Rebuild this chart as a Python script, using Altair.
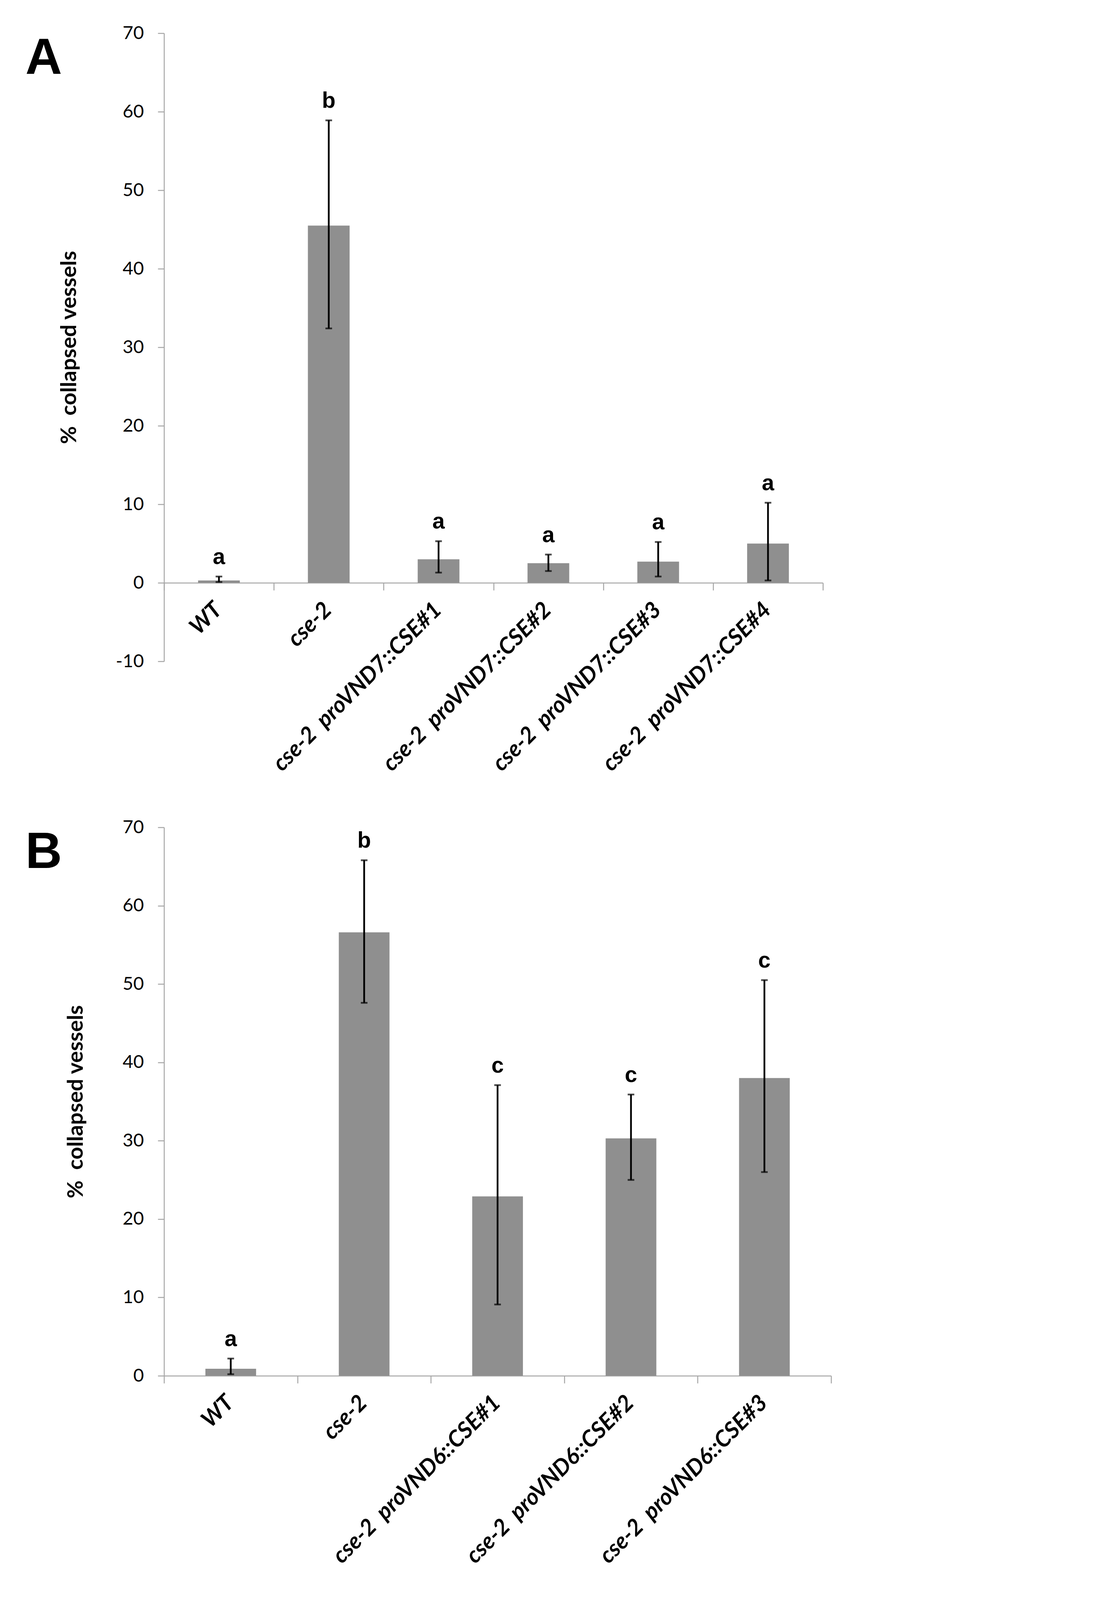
import altair as alt
import pandas as pd

# ---------- data ----------
SP = "\u00a0 "
cats_a = ["WT", "cse-2", "cse-2" + SP + "proVND7::CSE#1", "cse-2" + SP + "proVND7::CSE#2",
          "cse-2" + SP + "proVND7::CSE#3", "cse-2" + SP + "proVND7::CSE#4"]
vals_a = [0.3, 45.5, 3.0, 2.5, 2.7, 5.0]
lo_a = [0.1, 32.4, 1.3, 1.5, 0.8, 0.3]
hi_a = [0.8, 58.9, 5.3, 3.6, 5.2, 10.2]
sig_a = ["a", "b", "a", "a", "a", "a"]

cats_b = ["WT", "cse-2", "cse-2" + SP + "proVND6::CSE#1", "cse-2" + SP + "proVND6::CSE#2",
          "cse-2" + SP + "proVND6::CSE#3"]
vals_b = [0.9, 56.6, 22.9, 30.3, 38.0]
lo_b = [0.2, 47.6, 9.1, 25.0, 26.0]
hi_b = [2.2, 65.8, 37.1, 35.9, 50.5]
sig_b = ["a", "b", "c", "c", "c"]

yticks_a = [-10, 0, 10, 20, 30, 40, 50, 60, 70]
yticks_b = [0, 10, 20, 30, 40, 50, 60, 70]

BAR = "#8f8f8f"
AXIS = "#a6a6a6"
CAL = "Lato"
ARIAL = "Liberation Sans, Arial, sans-serif"
NARROW = "Liberation Sans Narrow, Liberation Sans, Arial, sans-serif"


def panel(cats, vals, lo, hi, sig, ydom, yticks, letter, w, h):
    df = pd.DataFrame({"cat": cats, "val": vals, "lo": lo, "hi": hi, "sig": sig})
    base = alt.Chart(df)
    xscale = alt.Scale(domain=cats, paddingInner=0, paddingOuter=0)
    yscale = alt.Scale(domain=ydom, nice=False, zero=False)
    zero_off = -(0 - ydom[0]) / (ydom[1] - ydom[0]) * h
    xaxis = alt.Axis(title=None, labelAngle=-45, labelFont=CAL, labelFontSize=58,
                     labelFontWeight="bold", labelFontStyle="italic", labelColor="black",
                     labelPadding=21, labelOffset=-22, tickBand="extent", tickSize=19,
                     tickWidth=2.5, tickColor=AXIS, domainColor=AXIS, domainWidth=2.5,
                     offset=zero_off, labelLimit=2000)
    yaxis = alt.Axis(title="%\u00a0 collapsed vessels", values=yticks, grid=False,
                     labelExpr="'' + datum.value",
                     labelFont=CAL, labelFontSize=47, labelColor="black",
                     labelPadding=36, tickSize=16, tickWidth=2.5, tickColor=AXIS,
                     domainColor=AXIS, domainWidth=2.5,
                     titleFont=CAL, titleFontSize=56, titleFontWeight="bold",
                     titleColor="black", titlePadding=90)
    x = alt.X("cat:N", scale=xscale, axis=xaxis, sort=cats)
    bars = base.mark_bar(color=BAR, width=alt.RelativeBandSize(0.38)).encode(
        x=x, y=alt.Y("val:Q", scale=yscale, axis=yaxis))
    rule = base.mark_rule(color="black", strokeWidth=4.5).encode(
        x=alt.X("cat:N", sort=cats), y="lo:Q", y2="hi:Q")
    cap_hi = base.mark_tick(color="black", thickness=4.5, size=17, orient="horizontal").encode(
        x=alt.X("cat:N", sort=cats), y="hi:Q")
    cap_lo = base.mark_tick(color="black", thickness=4.5, size=17, orient="horizontal").encode(
        x=alt.X("cat:N", sort=cats), y="lo:Q")
    txt = base.mark_text(font=ARIAL, fontSize=57, fontWeight="bold",
                         baseline="alphabetic", dy=-32, color="black").encode(
        x=alt.X("cat:N", sort=cats), y="hi:Q", text="sig:N")
    lab = alt.Chart(pd.DataFrame({"t": [letter]})).mark_text(
        font=NARROW, fontSize=130, fontWeight="bold",
        align="left", baseline="alphabetic", color="black").encode(
        x=alt.value(-355), y=alt.value(104), text="t:N")
    return alt.layer(bars, rule, cap_hi, cap_lo, txt, lab).properties(width=w, height=h)


pa = panel(cats_a, vals_a, lo_a, hi_a, sig_a, [-10, 70], yticks_a, "A", 1687, 1608)
pb = panel(cats_b, vals_b, lo_b, hi_b, sig_b, [0, 70], yticks_b, "B", 1708, 1404)

chart = alt.vconcat(pa, pb, spacing=108).properties(
    padding={"top": 53, "left": 57, "right": 20, "bottom": 10},
    background="white",
).configure_view(stroke=None)

chart.save("out.html", embed_options={"renderer": "svg", "actions": False})
